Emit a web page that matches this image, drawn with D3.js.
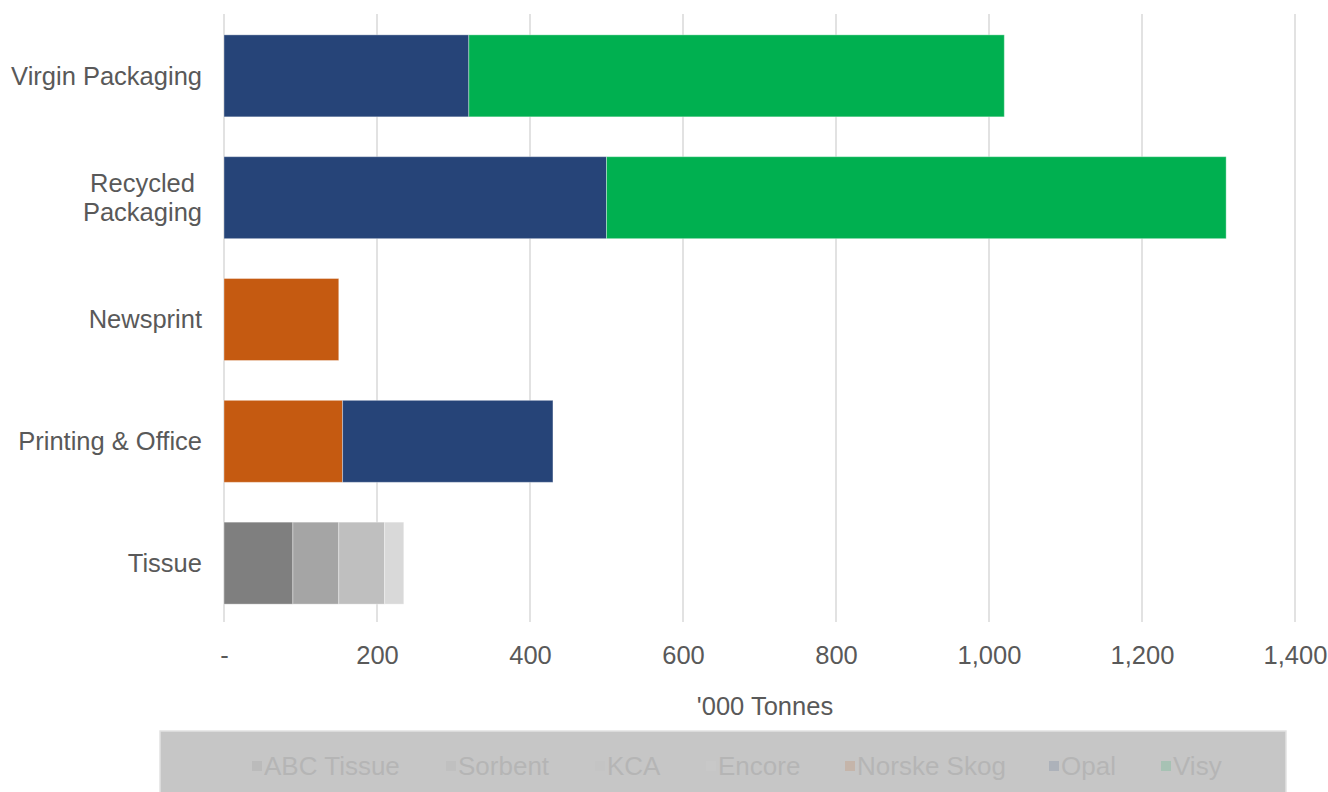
<!DOCTYPE html>
<html>
<head>
<meta charset="utf-8">
<script src="https://cdn.jsdelivr.net/npm/d3@7"></script>
<style>
	html, body { margin: 0; padding: 0; background: #fff; }
	svg { display: block; font-family: "Liberation Sans", Arial, sans-serif; }
</style>
</head>
<body>
<svg id="chart"></svg>
<script>
// Paper production capacity by grade and producer

const categories = ["Virgin Packaging", "Recycled Packaging", "Newsprint", "Printing & Office", "Tissue"];
const seriesNames = ["ABC Tissue", "Sorbent", "KCA", "Encore", "Norske Skog", "Opal", "Visy"];
const seriesColors = ["#7f7f7f", "#a5a5a5", "#bfbfbf", "#d9d9d9", "#c55a11", "#264478", "#00b050"];

const abcTissue  = [0, 0, 0, 0, 90];
const sorbent    = [0, 0, 0, 0, 60];
const kca        = [0, 0, 0, 0, 60];
const encore     = [0, 0, 0, 0, 25];
const norskeSkog = [0, 0, 150, 155, 0];
const opal       = [320, 500, 0, 275, 0];
const visy       = [700, 810, 0, 0, 0];

const xTicks = [0, 200, 400, 600, 800, 1000, 1200, 1400];
const axisTitle = "'000 Tonnes";

const width = 1328, height = 792;
const margins = {top: 15, right: 33, bottom: 168, left: 224};

const seriesValues = [abcTissue, sorbent, kca, encore, norskeSkog, opal, visy];
const table = categories.map((c, i) => {
	const row = {category: c};
	seriesNames.forEach((s, j) => row[s] = seriesValues[j][i]);
	return row;
});

const svg = d3.select("#chart")
	.attr("width", width)
	.attr("height", height);

const scaleX = d3.scaleLinear()
	.domain([0, 1400])
	.range([margins.left, width - margins.right]);

const scaleY = d3.scaleBand()
	.domain(categories)
	.range([margins.top, height - margins.bottom])
	.paddingInner(0.327)
	.paddingOuter(0.163);

// gridlines
svg.append("g")
	.selectAll("line")
	.data(xTicks)
	.join("line")
	.attr("x1", d => scaleX(d))
	.attr("x2", d => scaleX(d))
	.attr("y1", 14)
	.attr("y2", 622)
	.attr("stroke", "#d9d9d9")
	.attr("stroke-width", 1.5);

// stacked bars
const stacked = d3.stack().keys(seriesNames)(table);

svg.append("g")
	.selectAll("g")
	.data(stacked)
	.join("g")
	.attr("fill", (d, i) => seriesColors[i])
	.selectAll("rect")
	.data(d => d.filter(p => p[1] > p[0]))
	.join("rect")
	.attr("x", d => scaleX(d[0]))
	.attr("width", d => scaleX(d[1]) - scaleX(d[0]))
	.attr("y", d => scaleY(d.data.category))
	.attr("height", scaleY.bandwidth())
	.attr("stroke", "rgba(255,255,255,0.35)")
	.attr("stroke-width", 1);

// category labels
const catLabels = svg.append("g")
	.selectAll("text")
	.data(categories)
	.join("text")
	.attr("text-anchor", "end")
	.attr("fill", "#595959")
	.attr("font-size", 25.5)
	.attr("transform", d => `translate(202, ${scaleY(d) + scaleY.bandwidth() / 2})`);

catLabels.each(function(d) {
	const lines = d === "Recycled Packaging" ? ["Recycled ", "Packaging"] : [d];
	const t = d3.select(this);
	lines.forEach((ln, i) => {
		t.append("tspan")
			.attr("x", 0)
			.attr("y", (i - (lines.length - 1) / 2) * 29)
			.attr("dy", "0.35em")
			.attr("xml:space", "preserve")
			.text(ln);
	});
});

// x axis
const formatTick = d => d === 0 ? "-" : d3.format(",")(d);
svg.append("g")
	.attr("transform", "translate(0, 646)")
	.call(d3.axisBottom(scaleX).tickValues(xTicks).tickFormat(formatTick).tickSize(0))
	.call(g => g.select(".domain").remove())
	.call(g => g.selectAll("text")
		.attr("font-size", 25.5)
		.attr("font-family", "\"Liberation Sans\", Arial, sans-serif")
		.attr("fill", "#595959")
		.attr("dy", "0.71em")
		.attr("y", 0));

svg.append("text")
	.attr("x", 765)
	.attr("y", 706)
	.attr("dy", "0.35em")
	.attr("text-anchor", "middle")
	.attr("font-size", 25.5)
	.attr("fill", "#595959")
	.text(axisTitle);

// legend (faded, inside a grey box)
svg.append("rect")
	.attr("x", 160)
	.attr("y", 731)
	.attr("width", 1126)
	.attr("height", 70)
	.attr("fill", "#c6c6c6")
	.attr("stroke", "#e2e2e2")
	.attr("stroke-width", 1.5);

const legendX = [252, 446, 595, 706, 845, 1049, 1161];
const legend = svg.append("g")
	.attr("opacity", 0.15)
	.selectAll("g")
	.data(seriesNames)
	.join("g")
	.attr("transform", (d, i) => `translate(${legendX[i]}, 766)`);

legend.append("rect")
	.attr("x", 0)
	.attr("y", -5)
	.attr("width", 10)
	.attr("height", 10)
	.attr("fill", (d, i) => seriesColors[i]);

legend.append("text")
	.attr("x", 12)
	.attr("dy", "0.35em")
	.attr("font-size", 26)
	.attr("fill", "#595959")
	.text(d => d);
</script>
</body>
</html>
